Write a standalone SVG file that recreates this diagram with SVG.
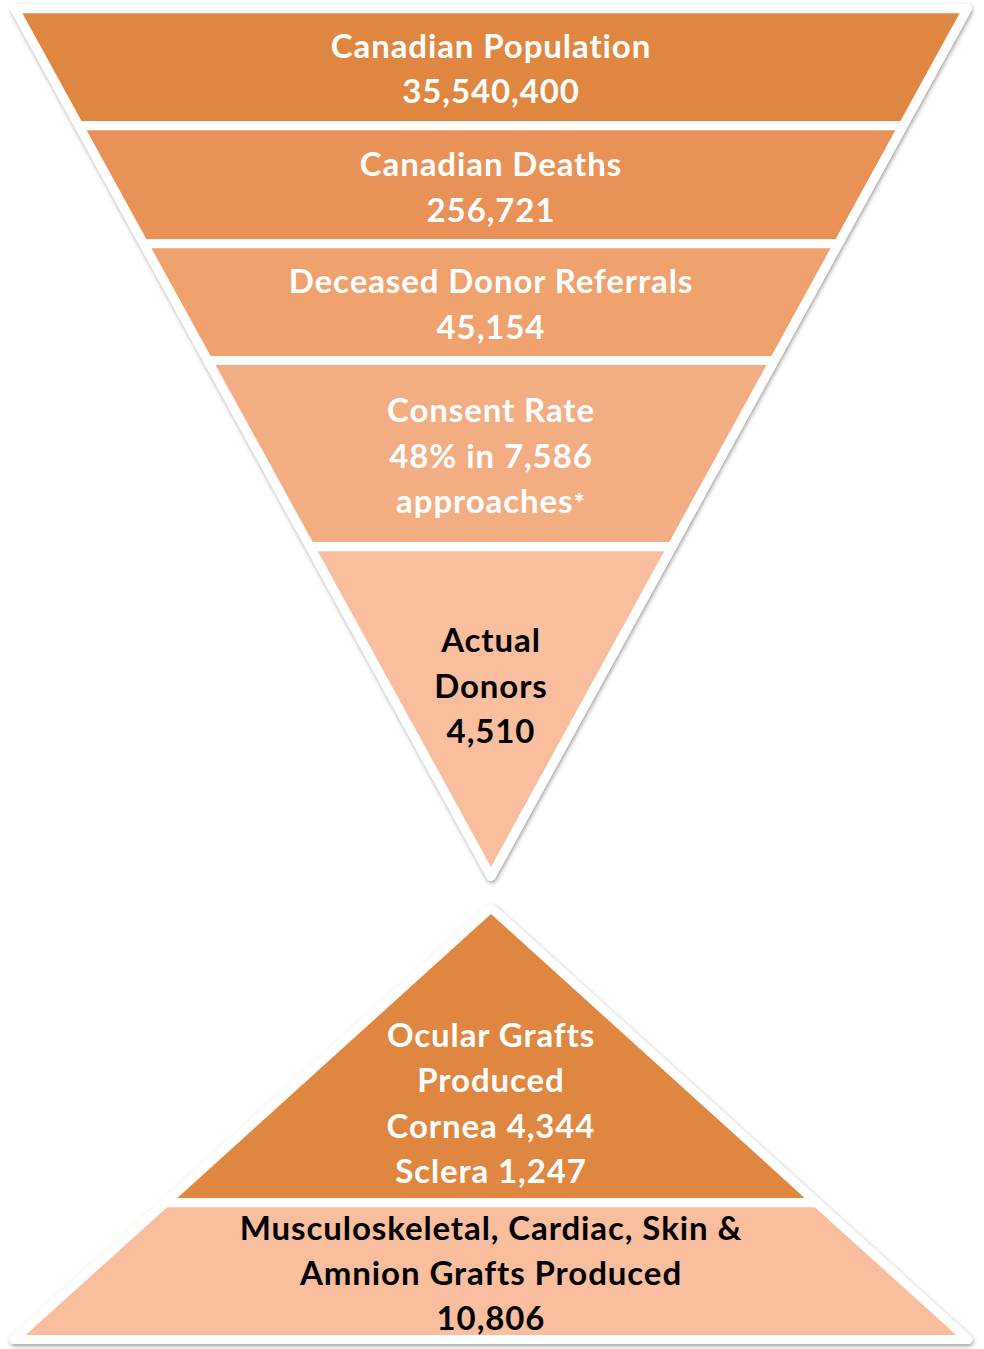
<svg xmlns="http://www.w3.org/2000/svg" width="984" height="1349" viewBox="0 0 984 1349">
<style>
  .seg { stroke: #FFFFFF; stroke-width: 9; stroke-linejoin: round; }
  .outline { fill: #FFFFFF; stroke: #FFFFFF; stroke-width: 9; stroke-linejoin: round; }
  .t { font-family: Lato, "Open Sans", "Liberation Sans", sans-serif; font-weight: 700; font-size: 33px; letter-spacing: 0.9px; text-anchor: middle; }
  .w { fill: #FFFFFF; }
  .k { fill: #000000; }
</style>
<defs>
  <filter id="shadow" x="-5%" y="-5%" width="110%" height="110%">
    <feDropShadow dx="1" dy="2" stdDeviation="2" flood-color="#000000" flood-opacity="0.4"/>
  </filter>
</defs>
<rect x="0" y="0" width="984" height="1349" fill="#FFFFFF"/>
<g id="outlines" filter="url(#shadow)">
  <polygon class="outline" points="14.9,8.8 967.1,8.8 491,876.3"/>
  <polygon class="outline" points="491,907.9 967.9,1339.5 14.1,1339.5"/>
</g>
<g id="connectors"></g>
<g id="node-population">
  <polygon class="seg" fill="#DF8740" points="14.9,8.8 967.1,8.8 902.89,125.8 79.11,125.8"/>
  <text class="t w" x="491" y="58">Canadian Population</text>
  <text class="t w" x="491" y="103">35,540,400</text>
</g>
<g id="node-deaths">
  <polygon class="seg" fill="#E89257" points="79.11,125.8 902.89,125.8 838.13,243.8 143.87,243.8"/>
  <text class="t w" x="491" y="176">Canadian Deaths</text>
  <text class="t w" x="491" y="222">256,721</text>
</g>
<g id="node-referrals">
  <polygon class="seg" fill="#EFA16E" points="143.87,243.8 838.13,243.8 774.08,360.5 207.92,360.5"/>
  <text class="t w" x="491" y="293">Deceased Donor Referrals</text>
  <text class="t w" x="491" y="339">45,154</text>
</g>
<g id="node-consent">
  <polygon class="seg" fill="#F3AD83" points="207.92,360.5 774.08,360.5 671.9,546.7 310.1,546.7"/>
  <text class="t w" x="491" y="422">Consent Rate</text>
  <text class="t w" x="491" y="468">48% in 7,586</text>
  <text class="t w" x="491" y="513">approaches<tspan font-size="27">*</tspan></text>
</g>
<g id="node-donors">
  <polygon class="seg" fill="#F8BE9E" points="310.1,546.7 671.9,546.7 491,876.3"/>
  <text class="t k" x="491" y="652">Actual</text>
  <text class="t k" x="491" y="698">Donors</text>
  <text class="t k" x="491" y="743">4,510</text>
</g>
<g id="node-ocular">
  <polygon class="seg" fill="#DF8740" points="491,907.9 816.8,1202.8 165.2,1202.8"/>
  <text class="t w" x="491" y="1047">Ocular Grafts</text>
  <text class="t w" x="491" y="1092">Produced</text>
  <text class="t w" x="491" y="1138">Cornea 4,344</text>
  <text class="t w" x="491" y="1183">Sclera 1,247</text>
</g>
<g id="node-musculoskeletal">
  <polygon class="seg" fill="#F8BE9E" points="165.2,1202.8 816.8,1202.8 967.9,1339.5 14.1,1339.5"/>
  <text class="t k" x="491" y="1240">Musculoskeletal, Cardiac, Skin &amp;</text>
  <text class="t k" x="491" y="1285">Amnion Grafts Produced</text>
  <text class="t k" x="491" y="1330">10,806</text>
</g>
</svg>
